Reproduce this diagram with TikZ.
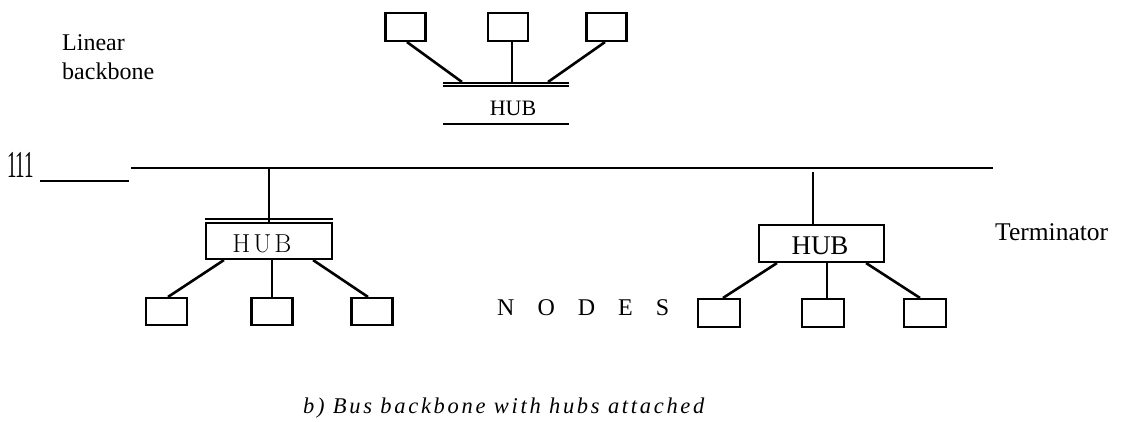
\documentclass[tikz,border=0pt]{standalone}
\usepackage{fontspec}
\setmainfont{Liberation Serif}
\newfontfamily\cmfont{Latin Modern Roman}
\newfontfamily\capfont[LetterSpace=12]{Liberation Serif}
\usetikzlibrary{calc}
\begin{document}
\begin{tikzpicture}[x=1pt,y=-1pt,
  term/.style={draw,line width=2.1pt,minimum width=40pt,minimum height=28pt,inner sep=0pt},
  hubbox/.style={draw,line width=2.1pt,inner sep=0pt},
  link/.style={line width=2.6pt},
  bus/.style={line width=1.6pt},
  bar/.style={line width=2pt},
  lbl/.style={font=\fontsize{24}{28}\selectfont,inner sep=0pt}
]
\useasboundingbox (0,0) rectangle (1124,421);

% ---- hub hanging above the backbone ----
\node[term] (t1) at (405.5,27) {};
\node[term] (t2) at (508,27) {};
\node[term] (t3) at (606.5,27) {};
\node[lbl,font=\fontsize{22}{26}\selectfont,anchor=base] (thub) at (513,115) {HUB};
\coordinate (tbarL) at (443,82.5);
\coordinate (tbarR) at (569,82.5);
\coordinate (tbarL2) at (443,86);
\coordinate (tbarR2) at (569,86);
\coordinate (tlineL) at (443,124);
\coordinate (tlineR) at (569,124);
\coordinate (tj1) at (462,82);
\coordinate (tj2) at (512,82);
\coordinate (tj3) at (548,82);
\draw[bar] (tbarL) -- (tbarR);
\draw[bar] (tbarL2) -- (tbarR2);
\draw[bus] (tlineL) -- (tlineR);
\draw[link] ($(t1.south)+(1.5,0)$) -- (tj1);
\draw[link] (t2.south -| tj2) -- (tj2);
\draw[link] ($(t3.south)+(-1.5,0)$) -- (tj3);

% ---- labels ----
\node[lbl,anchor=base west] (lin) at (62,50) {Linear};
\node[lbl,anchor=base west] (bbn) at (62,79) {backbone};
\node[anchor=base west,inner sep=0pt,font=\fontsize{38}{38}\selectfont,xscale=0.5] (ones) at (7,177) {111};
\node[lbl,font=\fontsize{25.5}{28}\selectfont,anchor=base west] (term) at (995,240) {Terminator};
\node[lbl,anchor=base west] (nodes) at (497,315) {N\hspace{23pt}O\hspace{23pt}D\hspace{23pt}E\hspace{23pt}S};
\node[anchor=base west,inner sep=0pt,font=\capfont\itshape\fontsize{22.5}{26}\selectfont] (cap) at (303,413) {b) Bus backbone with hubs attached};

% ---- backbone ----
\coordinate (uL) at (40,181);
\coordinate (uR) at (129,181);
\coordinate (busL) at (131,168);
\coordinate (busR) at (993,168);
\draw[bar] (uL) -- (uR);
\draw[bus] (busL) -- (busR);

% ---- left hub ----
\node[hubbox,minimum width=126pt,minimum height=36pt] (hubL) at (269,241) {};
\node[inner sep=0pt,font=\cmfont\fontsize{26}{28}\selectfont,anchor=base] (hubLt) at (262,252) {H\hspace{3pt}U\hspace{3pt}B};
\coordinate (lbarL) at (205,218.5);
\coordinate (lbarR) at (333,218.5);
\draw[bar] (lbarL) -- (lbarR);
\draw[bus] (hubL.north) -- (hubL.north |- busL);
\node[term,minimum width=41pt,minimum height=27pt] (bl1) at (166.5,311.5) {};
\node[term,minimum width=41pt,minimum height=27pt] (bl2) at (272,311.5) {};
\node[term,minimum width=41pt,minimum height=27pt] (bl3) at (372,311.5) {};
\draw[link] ($(hubL.south west)+(19,0)$) -- ($(bl1.north)+(1.5,0)$);
\draw[link] (hubL.south -| bl2.north) -- (bl2.north);
\draw[link] ($(hubL.south east)+(-20,0)$) -- ($(bl3.north)+(-4,0)$);

% ---- right hub ----
\node[hubbox,minimum width=125pt,minimum height=37pt] (hubR) at (821.5,243.5) {};
\node[inner sep=0pt,font=\fontsize{27}{30}\selectfont,anchor=base] (hubRt) at (820,254) {HUB};
\coordinate (rtop) at (813,172);
\draw[bus] (rtop) -- (rtop |- hubR.north);
\node[term,minimum width=42pt,minimum height=28pt] (br1) at (719,313) {};
\node[term,minimum width=42pt,minimum height=28pt] (br2) at (823,313) {};
\node[term,minimum width=42pt,minimum height=28pt] (br3) at (925,313) {};
\draw[link] ($(hubR.south west)+(19,0)$) -- ($(br1.north)+(4,0)$);
\draw[link] ($(hubR.south)+(5.5,0)$) -- ($(br2.north)+(4,0)$);
\draw[link] ($(hubR.south east)+(-19,0)$) -- ($(br3.north)+(-5,0)$);
\end{tikzpicture}
\end{document}
